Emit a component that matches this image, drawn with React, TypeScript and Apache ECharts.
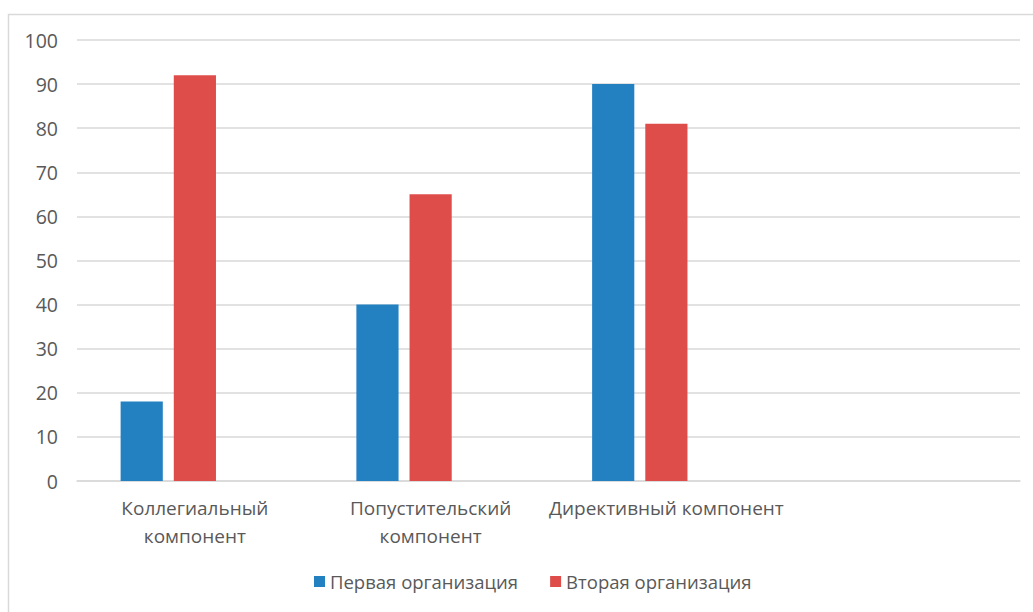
import React, { useEffect, useRef } from "react";
import * as echarts from "echarts";

const categories = ["Коллегиальный\nкомпонент", "Попустительский\nкомпонент", "Директивный компонент", ""];
const seriesNames = ["Первая организация", "Вторая организация"];
const firstOrg = [18, 40, 90, null];
const secondOrg = [92, 65, 81, null];
const thirdEmpty = [null, null, null, null];
const yTicks = { min: 0, max: 100, interval: 10 };

const FONT = "'Open Sans', 'Noto Sans', sans-serif";

export default function App() {
  const ref = useRef<HTMLDivElement>(null);
  useEffect(() => {
    if (!ref.current) return;
    const chart = echarts.init(ref.current, null, { renderer: "svg" });
    chart.setOption({
      animation: false,
      backgroundColor: "#ffffff",
      textStyle: { fontFamily: FONT },
      graphic: [
        {
          type: "rect",
          shape: { x: 8.5, y: 14.5, width: 1040, height: 620 },
          style: { fill: "none", stroke: "#d9d9d9", lineWidth: 1.5 },
          silent: true,
        },
      ],
      grid: { left: 77, right: 13, top: 40, bottom: 131, containLabel: false },
      legend: {
        data: seriesNames,
        left: 309,
        top: 567,
        icon: "rect",
        itemWidth: 11,
        itemHeight: 11,
        itemGap: 32,
        textStyle: { color: "#595959", fontSize: 18.5, fontFamily: FONT },
      },
      xAxis: {
        type: "category",
        data: categories,
        axisLine: { show: true, lineStyle: { color: "#d9d9d9", width: 1.5 } },
        axisTick: { show: false },
        axisLabel: {
          color: "#595959",
          fontSize: 19,
          lineHeight: 28,
          margin: 13,
          interval: 0,
          fontFamily: FONT,
        },
      },
      yAxis: {
        type: "value",
        min: yTicks.min,
        max: yTicks.max,
        interval: yTicks.interval,
        axisLine: { show: false },
        axisTick: { show: false },
        splitLine: { lineStyle: { color: "#d9d9d9", width: 1.5 } },
        axisLabel: { color: "#595959", fontSize: 19.5, margin: 19, fontFamily: FONT },
      },
      series: [
        {
          name: seriesNames[0],
          type: "bar",
          data: firstOrg,
          itemStyle: { color: "#2381c2" },
          barGap: "26%",
          barCategoryGap: "37%",
        },
        {
          name: seriesNames[1],
          type: "bar",
          data: secondOrg,
          itemStyle: { color: "#df4d4b" },
        },
        {
          name: "",
          type: "bar",
          data: thirdEmpty,
          itemStyle: { color: "#a5a5a5" },
        },
      ],
    });
    return () => chart.dispose();
  }, []);
  return (
    <div
      ref={ref}
      style={{ position: "fixed", left: 0, top: 0, width: 1033, height: 612 }}
    />
  );
}
